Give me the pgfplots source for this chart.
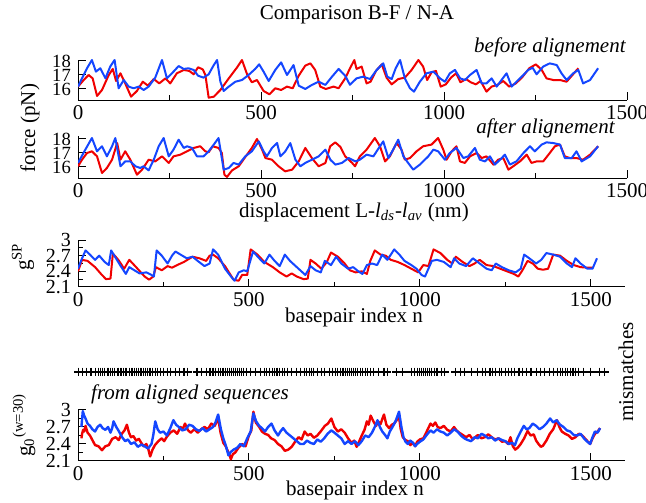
\documentclass[border=0pt]{standalone}
\usepackage{pgfplots}
\pgfplotsset{compat=1.18}
\usepackage{fontspec}
\setmainfont{Liberation Serif}
\definecolor{cred}{RGB}{240,0,0}
\definecolor{cblue}{RGB}{20,70,255}
\pgfplotsset{
  panel/.style={
    scale only axis,
    anchor=south west,
    axis x line=bottom, axis y line=left,
    axis line style={line width=0.5pt,-},
    tick align=inside,
    major tick length=4pt, minor tick length=2.5pt,
    every tick/.style={black,line width=0.5pt},
    xticklabel style={font=\fontsize{10.5}{12}\selectfont, inner sep=2.6pt},
    yticklabel style={font=\fontsize{10}{10}\selectfont, inner sep=0pt, xshift=-3.4pt},
    /pgf/number format/assume math mode=true,
    /pgf/number format/1000 sep={},
    xtick={0,500,1000,1500}, minor x tick num=1,
  },
  force/.style={yticklabel style={font=\fontsize{9.3}{9.3}\selectfont}},
  rline/.style={cred, line width=1.0pt, no marks, line join=round},
  bline/.style={cblue, line width=1.0pt, no marks, line join=round},
}
\begin{document}
\begin{tikzpicture}
\path[use as bounding box] (0,0) rectangle (323pt,251pt);
% ---------------- panel 1: before alignement
\begin{axis}[panel, force, at={(39pt,200.9pt)}, width=274.5pt, height=20.3pt,
  xmin=0, xmax=1500, ymin=15.2, ymax=18.1, ytick={16,17,18}]
\addplot[rline] coordinates {
(0,16.17)(15.5,16.64)(29,17.0)(40,16.76)(52,15.5)(65.6,15.93)(84,17.0)(95,17.43)(104,16.57)(116,17.12)
(129,16.4)(145,15.45)(161,15.86)(177,16.52)(191,16.24)(207,16.71)(222,16.4)(239,16.76)(252,16.4)(270,17.12)
(289,17.36)(304,17.29)(316,17.05)(328,17.55)(341,17.4)(348,17.0)(357,15.38)(371,15.45)(389,15.93)(412,16.76)
(434,17.52)(448,18.07)(462,17.05)(475,16.48)(489,16.64)(507,15.86)(523,15.62)(539,16.05)(555,15.93)(571,16.17)
(586.5,16.05)(603,16.95)(621,17.67)(635,17.83)(648,17.36)(662,16.17)(677,16.0)(698,16.17)(712,16.05)(730,16.76)
(744,17.52)(755,18.07)(761,17.43)(775,17.6)(788.5,16.4)(799.5,16.52)(814,17.29)(830,17.76)(843,16.81)(857,16.33)
(875,16.71)(893,16.81)(911.5,17.36)(930,18.07)(943,17.6)(954,16.64)(966,17.19)(978,17.29)(991,16.17)(1005,16.33)
(1019,16.81)(1033,17.12)(1045,16.48)(1060,16.71)(1073,16.48)(1087,16.33)(1100,16.57)(1116,15.81)(1130,16.17)(1145.5,16.29)
(1162,16.57)(1178,16.17)(1196.5,16.4)(1215,16.88)(1233,17.48)(1251,17.76)(1267,17.36)(1280,16.76)(1298.5,16.64)(1317,16.64)
(1335,16.52)(1351,17.0)(1367,17.48)
};
\addplot[bline] coordinates {
(0,16.17)(11,16.76)(24.6,17.48)(38,18.07)(49,17.24)(61,17.48)(75,16.76)(88,17.6)(100,18.07)(111,16.05)
(125,16.64)(138.5,16.17)(152,16.05)(166,16.17)(179.4,15.93)(193,16.17)(211,16.81)(229.5,18.07)(243,16.76)(261,17.24)
(275,17.64)(289,17.43)(302,17.48)(316,17.36)(328,16.95)(343,16.81)(357,17.05)(371,17.71)(380,18.07)(389,16.52)
(398,15.86)(412,16.17)(430,16.52)(448,16.64)(466,17.0)(484,17.43)(495,17.76)(507,17.24)(521,16.57)(539,17.36)
(555,17.9)(571,17.0)(589,17.71)(603,16.24)(621,16.0)(639,16.29)(657.5,16.52)(676,16.29)(694,16.88)(712,17.43)
(730,16.95)(743,16.3)(761,16.76)(779,16.88)(798,16.71)(816,17.36)(834,17.83)(845,16.88)(857,16.71)(868,17.48)
(880,18.07)(893,16.76)(907,16.05)(918,15.81)(934,16.52)(952,17.12)(971,17.24)(989,16.76)(1002.5,16.52)(1016,17.12)
(1030,17.36)(1044,16.76)(1057,16.64)(1071,17.0)(1089,17.36)(1103,16.4)(1116,16.4)(1130,16.76)(1144,16.17)(1157,16.64)
(1171,17.12)(1185,16.17)(1198,16.52)(1217,17.0)(1230,17.36)(1242,17.52)(1253,17.05)(1271,17.6)(1289,17.83)(1308,17.71)
(1321,17.12)(1335,16.64)(1353,17.12)(1367,17.36)(1380,16.4)(1399,16.64)(1421,17.48)
};
\end{axis}
% ---------------- panel 2: after alignement
\begin{axis}[panel, force, at={(39pt,161.9pt)}, width=274.5pt, height=21pt,
  xmin=0, xmax=1500, ymin=15.2, ymax=18.2, ytick={16,17,18}]
\addplot[rline] coordinates {
(0,16.05)(11,16.52)(24.6,17.0)(38,17.12)(52,16.76)(65.6,15.57)(79,15.93)(93,16.52)(107,17.71)(116,16.52)
(129,17.12)(143,16.52)(161,15.45)(175,15.81)(193,16.52)(211,16.4)(229.5,16.76)(248,16.29)(261,16.76)(279.6,16.88)
(298,17.12)(316,17.36)(334,17.48)(348,17.12)(357,17.05)(368,17.48)(384,17.36)(393,17.0)(400,15.45)(407,15.29)
(421,15.76)(439,16.05)(457,16.71)(475,17.36)(489,18.0)(503,17.24)(512,16.64)(530,16.52)(548,16.05)(566,15.69)
(585,15.81)(603,16.4)(621,17.36)(639,16.64)(657.5,16.05)(676,16.29)(689,17.48)(703,17.76)(717,17.43)(730,16.76)
(749,16.29)(757,16.05)(770,16.76)(788.5,17.24)(811,18.07)(825,17.48)(839,16.4)(852,16.76)(870.5,17.71)(884,17.24)
(893,16.52)(907,16.64)(925,17.12)(943,17.48)(966,17.6)(984,18.07)(998,17.24)(1007,16.52)(1021,17.12)(1034,17.48)
(1043.5,16.4)(1057,16.29)(1071,16.76)(1089,17.0)(1103,16.64)(1116,16.76)(1135,16.17)(1148,16.52)(1162,16.64)(1176,15.81)
(1189,16.05)(1207.5,16.4)(1226,16.88)(1239,16.29)(1253,16.4)(1271,16.4)(1289,17.0)(1303,17.48)(1317,17.6)(1330,16.76)
(1344,16.64)(1362,16.64)(1380,16.52)(1399,16.88)(1421,17.48)
};
\addplot[bline] coordinates {
(0,16.29)(20,17.24)(38,18.07)(52,17.12)(65.6,17.48)(79,16.76)(93,17.48)(102,18.07)(116,16.05)(129,16.4)
(143,16.4)(157,16.05)(170,15.93)(179,16.05)(193,15.76)(207,16.52)(220.5,17.48)(234,18.07)(248,16.76)(261,17.24)
(275,17.95)(289,17.36)(298,17.48)(311.5,17.36)(325,16.76)(343,16.76)(357,17.12)(371,17.6)(384,18.07)(398,15.81)
(412,15.93)(425,16.29)(439,16.17)(457,16.76)(475,17.12)(494,17.83)(507,17.12)(516,16.76)(530,17.36)(544,17.71)
(553,16.76)(566.5,17.12)(580,17.71)(594,16.52)(607.5,16.05)(621,16.29)(639,16.52)(657.5,16.76)(676,17.24)(689.5,16.52)
(703,16.17)(721,16.29)(739.5,16.64)(758,16.4)(770,16.52)(788.5,16.88)(807,16.76)(825,17.48)(834,17.83)(848,16.64)
(861,17.24)(875,17.95)(889,16.76)(902,16.29)(916,15.81)(934,16.17)(957,16.76)(971,17.24)(984,17.12)(1002.5,16.52)
(1016,17.0)(1034,17.36)(1053,16.64)(1066,16.76)(1084.5,17.36)(1098,16.52)(1112,16.4)(1125.5,16.76)(1139,16.17)(1153,16.52)
(1166.5,16.88)(1180,16.17)(1198,16.4)(1217,17.0)(1235,17.48)(1248,17.12)(1267,17.6)(1280,17.76)(1298.5,17.71)(1317,17.6)
(1330,16.64)(1349,16.64)(1362,17.12)(1376,16.4)(1399,16.76)(1421,17.48)
};
\end{axis}
% ---------------- panel 3: gSP
\begin{axis}[panel, at={(39pt,107.5pt)}, width=273.5pt, height=23.5pt,
  xmin=0, xmax=1600, ymin=2.1, ymax=3.0, ytick={2.1,2.4,2.7,3}, minor y tick num=1]
\addplot[rline] coordinates {
(0,2.40)(12,2.62)(28,2.60)(50,2.48)(70,2.33)(82,2.25)(95,2.26)(102,2.74)(118,2.62)(135,2.45)
(150,2.62)(170,2.48)(195,2.30)(208,2.24)(220,2.30)(228,2.48)(245,2.42)(262,2.50)(275,2.47)(290,2.52)
(310,2.58)(335,2.68)(355,2.65)(375,2.60)(385,2.70)(395,2.72)(410,2.65)(430,2.50)(455,2.24)(470,2.22)
(480,2.33)(495,2.33)(505,2.82)(525,2.72)(545,2.58)(570,2.48)(590,2.38)(610,2.30)(625,2.36)(640,2.30)
(660,2.25)(672,2.26)(680,2.62)(695,2.55)(712,2.45)(728,2.58)(740,2.76)(760,2.68)(780,2.55)(795,2.42)
(812,2.38)(830,2.40)(845,2.35)(855,2.60)(868,2.80)(885,2.72)(900,2.70)(915,2.62)(935,2.58)(955,2.52)
(975,2.45)(995,2.38)(1010,2.52)(1025,2.50)(1040,2.82)(1060,2.75)(1080,2.62)(1095,2.55)(1105,2.68)(1125,2.58)
(1145,2.50)(1160,2.55)(1175,2.62)(1195,2.52)(1215,2.50)(1235,2.45)(1255,2.40)(1275,2.35)(1288,2.30)(1300,2.42)
(1315,2.60)(1330,2.55)(1345,2.45)(1360,2.43)(1375,2.45)(1390,2.72)(1410,2.70)(1430,2.60)(1450,2.52)(1470,2.48)
(1490,2.47)(1505,2.47)
};
\addplot[bline] coordinates {
(0,2.45)(10,2.62)(22,2.80)(35,2.72)(50,2.62)(62,2.70)(78,2.58)(90,2.52)(97,2.80)(110,2.66)
(125,2.50)(140,2.35)(150,2.48)(165,2.42)(180,2.36)(200,2.38)(215,2.33)(222,2.30)(230,2.80)(245,2.70)
(262,2.55)(275,2.70)(285,2.78)(300,2.72)(318,2.65)(335,2.68)(350,2.60)(370,2.50)(385,2.55)(395,2.82)
(410,2.72)(430,2.45)(450,2.28)(458,2.22)(470,2.38)(485,2.42)(495,2.40)(512,2.78)(530,2.65)(545,2.55)
(560,2.72)(575,2.60)(590,2.50)(605,2.72)(620,2.60)(640,2.48)(665,2.33)(680,2.50)(695,2.42)(710,2.38)
(722,2.60)(740,2.52)(755,2.68)(770,2.55)(790,2.45)(805,2.48)(820,2.40)(832,2.35)(845,2.52)(860,2.55)
(875,2.52)(890,2.72)(905,2.62)(925,2.82)(940,2.72)(955,2.60)(975,2.52)(990,2.45)(1005,2.33)(1015,2.30)
(1025,2.45)(1035,2.60)(1050,2.62)(1070,2.58)(1090,2.48)(1100,2.65)(1115,2.55)(1135,2.50)(1155,2.65)(1175,2.55)
(1195,2.45)(1210,2.42)(1222,2.55)(1240,2.48)(1260,2.42)(1280,2.38)(1295,2.45)(1305,2.72)(1320,2.65)(1340,2.55)
(1355,2.62)(1370,2.75)(1390,2.72)(1410,2.68)(1430,2.55)(1445,2.48)(1455,2.65)(1470,2.55)(1490,2.45)(1505,2.45)
(1518,2.65)
};
\end{axis}
% ---------------- panel 4: g0 (w=30)
\begin{axis}[panel, at={(39pt,20.5pt)}, width=273.5pt, height=25.5pt,
  xmin=0, xmax=1600, ymin=2.1, ymax=3.0, ytick={2.1,2.4,2.7,3}, minor y tick num=1]
\addplot[rline, line width=1.2pt] coordinates {
(10,2.50)(12,2.58)(15,2.65)(18,2.62)(22,2.72)(28,2.60)(35,2.55)(42,2.47)(50,2.38)(60,2.36)
(70,2.29)(80,2.36)(90,2.38)(100,2.49)(110,2.52)(119,2.47)(128,2.58)(136,2.64)(143,2.74)(149,2.60)
(155,2.52)(162,2.54)(170,2.46)(178,2.49)(185,2.42)(192,2.36)(200,2.40)(206,2.30)(211,2.18)(218,2.30)
(225,2.38)(235,2.45)(245,2.50)(252,2.45)(260,2.53)(270,2.60)(280,2.64)(290,2.58)(300,2.70)(306,2.66)
(313,2.76)(322,2.64)(330,2.60)(340,2.66)(350,2.60)(360,2.66)(370,2.70)(380,2.66)(390,2.76)(400,2.72)
(410,2.85)(417,2.60)(425,2.42)(432,2.36)(440,2.25)(444,2.20)(447,2.13)(453,2.22)(460,2.25)(470,2.34)
(480,2.40)(490,2.36)(500,2.55)(507,2.64)(513,2.97)(520,2.78)(530,2.70)(538,2.62)(547,2.58)(556,2.56)
(565,2.50)(575,2.47)(585,2.40)(595,2.36)(605,2.28)(615,2.30)(625,2.35)(635,2.44)(645,2.52)(654,2.48)
(663,2.62)(672,2.55)(680,2.58)(690,2.51)(700,2.55)(711,2.63)(722,2.72)(731,2.76)(741,2.85)(750,2.70)
(760,2.62)(770,2.66)(780,2.60)(790,2.50)(800,2.42)(808,2.46)(815,2.35)(822,2.44)(830,2.55)(838,2.65)
(845,2.80)(850,2.74)(856,2.90)(864,2.80)(872,2.72)(878,2.80)(885,2.75)(890,2.84)(895,2.92)(902,2.74)
(910,2.68)(918,2.74)(925,2.76)(932,2.82)(939,2.88)(944,2.66)(950,2.52)(958,2.47)(965,2.45)(972,2.38)
(980,2.42)(986,2.36)(992,2.44)(1000,2.48)(1010,2.50)(1020,2.62)(1031,2.76)(1038,2.72)(1045,2.78)(1052,2.70)
(1060,2.68)(1070,2.72)(1080,2.65)(1090,2.62)(1100,2.70)(1107,2.64)(1115,2.60)(1125,2.56)(1135,2.52)(1145,2.56)
(1155,2.48)(1162,2.52)(1170,2.56)(1180,2.50)(1190,2.52)(1200,2.57)(1210,2.52)(1220,2.48)(1230,2.50)(1240,2.44)
(1250,2.45)(1258,2.40)(1265,2.52)(1272,2.36)(1279,2.30)(1287,2.34)(1295,2.40)(1305,2.50)(1315,2.63)(1324,2.55)
(1333,2.57)(1340,2.46)(1347,2.40)(1354,2.35)(1360,2.37)(1370,2.46)(1380,2.58)(1390,2.66)(1401,2.82)(1408,2.70)
(1415,2.62)(1425,2.58)(1435,2.55)(1445,2.49)(1455,2.52)(1465,2.58)(1475,2.55)(1487,2.47)(1498,2.40)(1505,2.50)
(1512,2.58)(1520,2.62)(1527,2.68)
};
\addplot[bline, line width=1.2pt] coordinates {
(10,2.70)(14,2.98)(18,2.90)(22,2.85)(28,2.76)(35,2.72)(42,2.66)(50,2.62)(57,2.70)(65,2.74)
(72,2.68)(80,2.65)(88,2.70)(95,2.60)(100,2.68)(104,2.80)(112,2.70)(120,2.62)(129,2.52)(138,2.45)
(146,2.48)(155,2.40)(165,2.43)(175,2.35)(185,2.39)(195,2.36)(205,2.32)(215,2.40)(220,2.55)(226,2.80)
(233,2.66)(240,2.60)(250,2.62)(260,2.55)(270,2.68)(279,2.82)(287,2.74)(295,2.70)(305,2.64)(315,2.66)
(325,2.74)(335,2.72)(345,2.66)(355,2.63)(365,2.68)(375,2.62)(385,2.66)(395,2.70)(402,2.78)(410,2.92)
(418,2.66)(425,2.50)(432,2.38)(440,2.20)(447,2.26)(455,2.30)(465,2.33)(475,2.40)(485,2.36)(495,2.50)
(505,2.62)(513,2.94)(521,2.80)(530,2.72)(538,2.68)(547,2.62)(556,2.70)(566,2.76)(575,2.64)(585,2.55)
(592,2.62)(600,2.68)(610,2.60)(620,2.55)(630,2.50)(640,2.45)(650,2.40)(660,2.40)(670,2.46)(680,2.42)
(690,2.40)(700,2.48)(710,2.44)(720,2.50)(730,2.58)(741,2.64)(750,2.60)(760,2.55)(770,2.50)(780,2.40)
(790,2.45)(800,2.40)(810,2.45)(820,2.38)(830,2.45)(840,2.55)(850,2.52)(860,2.60)(868,2.70)(876,2.82)
(883,2.70)(890,2.62)(898,2.56)(905,2.50)(912,2.62)(920,2.70)(930,2.82)(939,2.97)(946,2.70)(952,2.52)
(958,2.44)(965,2.40)(972,2.46)(980,2.42)(986,2.36)(992,2.40)(1000,2.44)(1010,2.48)(1020,2.56)(1031,2.64)
(1040,2.60)(1050,2.66)(1060,2.62)(1070,2.60)(1080,2.55)(1090,2.60)(1100,2.66)(1110,2.62)(1120,2.55)(1130,2.50)
(1140,2.47)(1150,2.45)(1160,2.52)(1170,2.50)(1180,2.58)(1190,2.55)(1200,2.50)(1210,2.52)(1220,2.46)(1230,2.50)
(1240,2.47)(1250,2.45)(1260,2.40)(1270,2.42)(1278,2.38)(1285,2.50)(1295,2.62)(1304,2.72)(1312,2.66)(1320,2.68)
(1330,2.76)(1340,2.72)(1350,2.66)(1360,2.70)(1370,2.76)(1381,2.85)(1390,2.78)(1400,2.82)(1410,2.74)(1420,2.70)
(1430,2.64)(1440,2.62)(1450,2.56)(1460,2.55)(1470,2.58)(1480,2.50)(1490,2.44)(1498,2.40)(1505,2.52)(1512,2.62)
(1520,2.60)(1527,2.68)
};
\end{axis}
% ---------------- mismatches strip
\begin{axis}[scale only axis, anchor=west, at={(39pt,65pt)}, width=273.5pt, height=6pt,
  xmin=0, xmax=1600, ymin=-1, ymax=1, hide axis, clip=false]
\addplot[only marks, mark=+, mark size=2.2pt, black, mark options={line width=0.55pt}] coordinates {
(2,0)(14,0)(25,0)(38,0)(52,0)(60,0)(66,0)(72,0)(78,0)(85,0)(90,0)(96,0)(101,0)(108,0)(117,0)(123,0)(128,0)(132,0)(138,0)(143,0)
(150,0)(156,0)(160,0)(165,0)(172,0)(178,0)(183,0)(187,0)(192,0)(197,0)(203,0)(208,0)(213,0)(219,0)(226,0)(233,0)(240,0)(250,0)(262,0)(270,0)
(285,0)(298,0)(310,0)(320,0)
(348,0)(362,0)(375,0)(386,0)(395,0)(402,0)(410,0)(418,0)(424,0)(431,0)(438,0)(444,0)(450,0)(456,0)(461,0)(466,0)(472,0)(478,0)(485,0)(492,0)
(505,0)(520,0)(533,0)(545,0)(552,0)(560,0)(568,0)(575,0)(582,0)(590,0)(598,0)(605,0)(612,0)(625,0)(640,0)(650,0)(662,0)(668,0)(676,0)(684,0)
(690,0)(700,0)(712,0)(722,0)(735,0)(745,0)(753,0)(760,0)(768,0)(775,0)(782,0)(788,0)(794,0)(800,0)(806,0)(812,0)(818,0)(825,0)(832,0)(840,0)
(848,0)(856,0)(864,0)(880,0)(895,0)(904,0)
(932,0)(950,0)(975,0)(985,0)(992,0)(998,0)(1004,0)(1010,0)(1016,0)(1022,0)(1028,0)(1035,0)(1042,0)(1050,0)(1062,0)(1072,0)
(1104,0)(1118,0)(1130,0)(1150,0)(1168,0)(1182,0)(1192,0)(1205,0)(1213,0)(1222,0)(1232,0)(1240,0)(1250,0)(1258,0)(1268,0)(1278,0)(1290,0)(1300,0)
(1312,0)(1325,0)(1340,0)(1352,0)(1365,0)(1380,0)(1392,0)
(1402,0)(1410,0)(1418,0)(1425,0)(1432,0)(1440,0)(1448,0)(1456,0)(1465,0)(1478,0)(1500,0)(1525,0)(1540,0)
};
\end{axis}
% ---------------- texts
\begin{scope}[every node/.style={font=\fontsize{10.5}{12}\selectfont, inner sep=0pt}]
\node at (178.5pt,243.5pt) {Comparison B-F / N-A};
\node[anchor=east] at (313pt,227.5pt) {\itshape before alignement};
\node[anchor=east] at (307.5pt,187pt) {\itshape after alignement};
\node[rotate=90] at (15pt,187pt) {force (pN)};
\node at (177pt,145pt) {displacement L-\textit{l}\textsubscript{\textit{ds}}-\textit{l}\textsubscript{\textit{av}} (nm)};
\node[rotate=90] at (11.5pt,122.5pt) {g\textsuperscript{SP}};
\node at (177pt,92.5pt) {basepair index n};
\node at (95pt,54pt) {\itshape from aligned sequences};
\node[rotate=90] at (313pt,65pt) {mismatches};
\node[rotate=90] at (12pt,38.5pt) {g\textsubscript{0}\textsuperscript{(w=30)}};
\node at (177.5pt,6pt) {basepair index n};
\end{scope}
\end{tikzpicture}
\end{document}
